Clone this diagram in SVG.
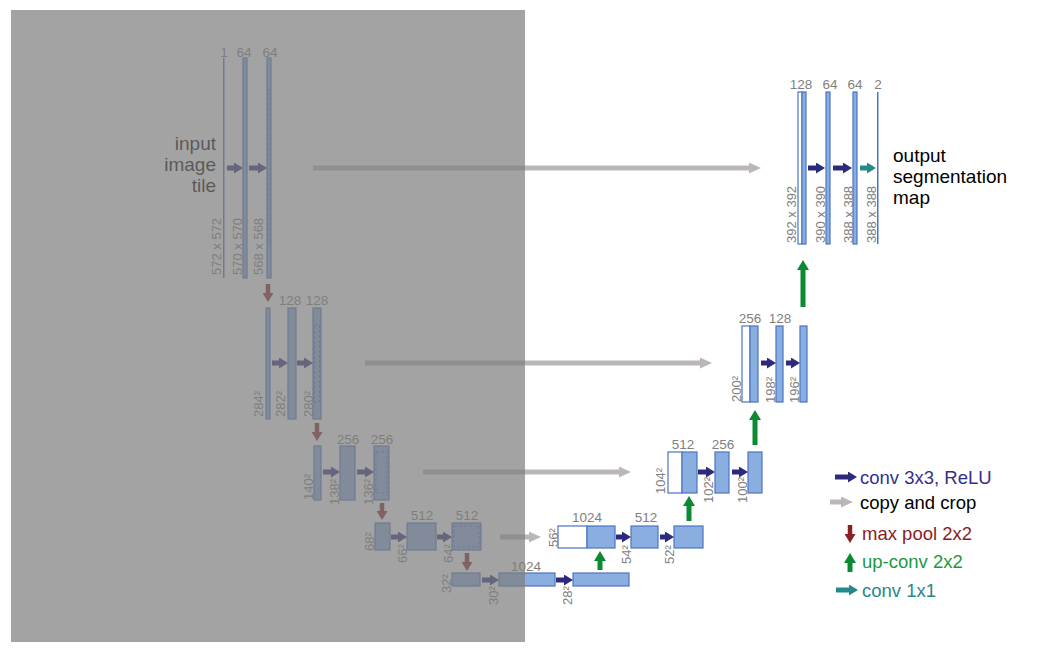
<svg xmlns="http://www.w3.org/2000/svg" width="1051" height="657" viewBox="0 0 1051 657">
<style>
text{font-family:"Liberation Sans",Arial,sans-serif}
.b{fill:#8aaee0;stroke:#4b74c4;stroke-width:1.2}
.w{fill:#ffffff;stroke:#4b74c4;stroke-width:1.2}
.d{fill:none;stroke:#4b74c4;stroke-width:1;stroke-dasharray:3 2}
.t{font-size:13.5px;fill:#808080;text-anchor:middle}
.v{font-size:13px;fill:#808080}
.big{font-size:19px;fill:#000000}
.lg{font-size:18.5px}
.cv{stroke:#2c2a7c;stroke-width:5;marker-end:url(#mNavy)}
.cp{stroke:#bcb7b7;stroke-width:5;marker-end:url(#mGray)}
.mp{stroke:#8b2020;stroke-width:4.5;marker-end:url(#mRed)}
.up{stroke:#0b8a32;stroke-width:5;marker-end:url(#mGreen)}
.c1{stroke:#27888a;stroke-width:5;marker-end:url(#mTeal)}
</style>
<defs>
<marker id="mNavy" markerUnits="userSpaceOnUse" viewBox="0 0 9 11" markerWidth="9" markerHeight="11" refX="0" refY="5.5" orient="auto"><path d="M0,0 L9,5.5 L0,11 z" fill="#2c2a7c"/></marker>
<marker id="mTeal" markerUnits="userSpaceOnUse" viewBox="0 0 9 11" markerWidth="9" markerHeight="11" refX="0" refY="5.5" orient="auto"><path d="M0,0 L9,5.5 L0,11 z" fill="#27888a"/></marker>
<marker id="mGray" markerUnits="userSpaceOnUse" viewBox="0 0 12 11" markerWidth="12" markerHeight="11" refX="0" refY="5.5" orient="auto"><path d="M0,0 L12,5.5 L0,11 z" fill="#bcb7b7"/></marker>
<marker id="mRed" markerUnits="userSpaceOnUse" viewBox="0 0 9 11" markerWidth="9" markerHeight="11" refX="0" refY="5.5" orient="auto"><path d="M0,0 L9,5.5 L0,11 z" fill="#8b2020"/></marker>
<marker id="mGreen" markerUnits="userSpaceOnUse" viewBox="0 0 10 12" markerWidth="10" markerHeight="12" refX="0" refY="6" orient="auto"><path d="M0,0 L10,6 L0,12 z" fill="#0b8a32"/></marker>
</defs>
<rect x="0" y="0" width="1051" height="657" fill="#ffffff"/>

<g id="input-text"><text class="big" text-anchor="end" x="216" y="150">input</text><text class="big" text-anchor="end" x="216" y="171">image</text><text class="big" text-anchor="end" x="216" y="192">tile</text></g>

<g id="c1a"><rect x="223" y="58" width="1.5" height="220" fill="#4b74c4"/><text class="t" x="224" y="57">1</text><text class="v" transform="translate(221,275) rotate(-90)">572 x 572</text></g>
<g id="c1b"><rect class="b" x="243" y="58" width="4" height="220"/><text class="t" x="244" y="57">64</text><text class="v" transform="translate(242,275) rotate(-90)">570 x 570</text></g>
<g id="c1c"><rect class="b" x="267" y="58" width="4" height="220"/><rect class="d" x="267.8" y="90" width="2.4" height="153"/><text class="t" x="270" y="57">64</text><text class="v" transform="translate(263,275) rotate(-90)">568 x 568</text></g>

<g id="c2a"><rect class="b" x="266" y="308" width="4" height="111"/><text class="v" transform="translate(263,417) rotate(-90)">284²</text></g>
<g id="c2b"><rect class="b" x="288" y="308" width="8" height="111"/><text class="t" x="290" y="305">128</text><text class="v" transform="translate(285,417) rotate(-90)">282²</text></g>
<g id="c2c"><rect class="b" x="313" y="308" width="8" height="111"/><rect class="d" x="314.5" y="325" width="5" height="77"/><text class="t" x="317" y="305">128</text><text class="v" transform="translate(313,417) rotate(-90)">280²</text></g>

<g id="c3a"><rect class="b" x="314" y="446" width="7" height="54"/><text class="v" transform="translate(313,500) rotate(-90)">140²</text></g>
<g id="c3b"><rect class="b" x="340" y="446" width="15" height="54"/><text class="t" x="348" y="444">256</text><text class="v" transform="translate(339,505) rotate(-90)">138²</text></g>
<g id="c3c"><rect class="b" x="374" y="446" width="15" height="54"/><rect class="d" x="376" y="452" width="11" height="41"/><text class="t" x="382" y="444">256</text><text class="v" transform="translate(373,505) rotate(-90)">136²</text></g>

<g id="c4a"><rect class="b" x="375" y="523" width="15" height="27"/><text class="v" transform="translate(374,551) rotate(-90)">68²</text></g>
<g id="c4b"><rect class="b" x="407" y="523" width="29" height="27"/><text class="t" x="422" y="520">512</text><text class="v" transform="translate(407,563) rotate(-90)">66²</text></g>
<g id="c4c"><rect class="b" x="452" y="523" width="29" height="27"/><rect class="d" x="454" y="526" width="25" height="21"/><text class="t" x="467" y="520">512</text><text class="v" transform="translate(453,563) rotate(-90)">64²</text></g>

<g id="b5a"><rect class="b" x="452" y="573" width="28" height="13"/><text class="v" transform="translate(451,593) rotate(-90)">32²</text></g>
<g id="b5b"><rect class="b" x="499" y="573" width="56" height="13"/><text class="t" x="526" y="571">1024</text><text class="v" transform="translate(498,605) rotate(-90)">30²</text></g>
<g id="b5c"><rect class="b" x="573" y="573" width="56" height="13"/><text class="v" transform="translate(572,605) rotate(-90)">28²</text></g>

<g id="e4a"><rect class="w" x="558" y="526" width="29" height="22"/><rect class="b" x="587" y="526" width="28" height="22"/><text class="t" x="587" y="522">1024</text><text class="v" transform="translate(558,547) rotate(-90)">56²</text></g>
<g id="e4b"><rect class="b" x="631" y="526" width="27" height="22"/><text class="t" x="646" y="522">512</text><text class="v" transform="translate(631,564) rotate(-90)">54²</text></g>
<g id="e4c"><rect class="b" x="674" y="526" width="29" height="22"/><text class="v" transform="translate(674,564) rotate(-90)">52²</text></g>

<g id="e3a"><rect class="w" x="668" y="452" width="14" height="41"/><rect class="b" x="682" y="452" width="15" height="41"/><text class="t" x="683" y="449">512</text><text class="v" transform="translate(665,494) rotate(-90)">104²</text></g>
<g id="e3b"><rect class="b" x="715" y="452" width="14" height="41"/><text class="t" x="723" y="449">256</text><text class="v" transform="translate(713,503) rotate(-90)">102²</text></g>
<g id="e3c"><rect class="b" x="748" y="452" width="14" height="41"/><text class="v" transform="translate(747,503) rotate(-90)">100²</text></g>

<g id="e2a"><rect class="w" x="742" y="326" width="8" height="76"/><rect class="b" x="750" y="326" width="8" height="76"/><text class="t" x="750" y="323">256</text><text class="v" transform="translate(741,402) rotate(-90)">200²</text></g>
<g id="e2b"><rect class="b" x="776" y="326" width="7" height="76"/><text class="t" x="780" y="323">128</text><text class="v" transform="translate(775,403) rotate(-90)">198²</text></g>
<g id="e2c"><rect class="b" x="800" y="326" width="7" height="76"/><text class="v" transform="translate(799,403) rotate(-90)">196²</text></g>

<g id="e1a"><rect class="w" x="798" y="92" width="4" height="152"/><rect class="b" x="802" y="92" width="4" height="152"/><text class="t" x="801" y="89">128</text><text class="v" transform="translate(796,243) rotate(-90)">392 x 392</text></g>
<g id="e1b"><rect class="b" x="826" y="92" width="4" height="152"/><text class="t" x="830" y="89">64</text><text class="v" transform="translate(825,243) rotate(-90)">390 x 390</text></g>
<g id="e1c"><rect class="b" x="853" y="92" width="4" height="152"/><text class="t" x="855" y="89">64</text><text class="v" transform="translate(853,243) rotate(-90)">388 x 388</text></g>
<g id="out"><rect x="877" y="92" width="1.5" height="152" fill="#4b74c4"/><text class="t" x="878" y="89">2</text><text class="v" transform="translate(876,243) rotate(-90)">388 x 388</text></g>

<g id="output-text"><text class="big" x="893" y="162">output</text><text class="big" x="893" y="183">segmentation</text><text class="big" x="893" y="204">map</text></g>

<g id="connectors">
<line class="cv" x1="227" y1="168" x2="234" y2="168"/>
<line class="cv" x1="249" y1="168" x2="258" y2="168"/>
<line class="cv" x1="272" y1="363" x2="279" y2="363"/>
<line class="cv" x1="297" y1="363" x2="304" y2="363"/>
<line class="cv" x1="323" y1="472" x2="331" y2="472"/>
<line class="cv" x1="357" y1="472" x2="365" y2="472"/>
<line class="cv" x1="391" y1="537" x2="398" y2="537"/>
<line class="cv" x1="437" y1="537" x2="443" y2="537"/>
<line class="cv" x1="482" y1="580" x2="490" y2="580"/>
<line class="cv" x1="556" y1="580" x2="564" y2="580"/>
<line class="cv" x1="616" y1="537" x2="622" y2="537"/>
<line class="cv" x1="660" y1="537" x2="665" y2="537"/>
<line class="cv" x1="698" y1="472" x2="706" y2="472"/>
<line class="cv" x1="732" y1="472" x2="739" y2="472"/>
<line class="cv" x1="761" y1="363" x2="767" y2="363"/>
<line class="cv" x1="786" y1="363" x2="791" y2="363"/>
<line class="cv" x1="808" y1="168" x2="816" y2="168"/>
<line class="cv" x1="833" y1="168" x2="843" y2="168"/>
<line class="c1" x1="860" y1="168" x2="867" y2="168"/>
<line class="cp" x1="313" y1="168" x2="749" y2="168"/>
<line class="cp" x1="365" y1="363" x2="700" y2="363"/>
<line class="cp" x1="423" y1="472" x2="619" y2="472"/>
<line class="cp" x1="500" y1="537" x2="529" y2="537"/>
<line class="mp" x1="268" y1="284" x2="268" y2="293"/>
<line class="mp" x1="317" y1="423" x2="317" y2="432"/>
<line class="mp" x1="382" y1="503" x2="382" y2="511"/>
<line class="mp" x1="467" y1="553" x2="467" y2="562"/>
<line class="up" x1="600" y1="570" x2="600" y2="561"/>
<line class="up" x1="689" y1="521" x2="689" y2="506"/>
<line class="up" x1="755" y1="445" x2="755" y2="420"/>
<line class="up" x1="803" y1="307" x2="803" y2="270"/>
</g>

<g id="legend">
<line class="cv" x1="835" y1="477" x2="848" y2="477"/>
<text class="lg" x="860" y="484" fill="#34308c">conv 3x3, ReLU</text>
<line class="cp" x1="830" y1="502" x2="841" y2="502"/>
<text class="lg" x="860" y="509" fill="#000000">copy and crop</text>
<line class="mp" x1="850" y1="525" x2="850" y2="534"/>
<text class="lg" x="862" y="540" fill="#8b1c1c">max pool 2x2</text>
<line class="up" x1="850" y1="572" x2="850" y2="563"/>
<text class="lg" x="862" y="568" fill="#1a9a40">up-conv 2x2</text>
<line class="c1" x1="836" y1="590" x2="849" y2="590"/>
<text class="lg" x="862" y="597" fill="#27888a">conv 1x1</text>
</g>

<rect id="overlay" x="11" y="10" width="514" height="632" fill="#7e7e7e" fill-opacity="0.71"/>
</svg>
